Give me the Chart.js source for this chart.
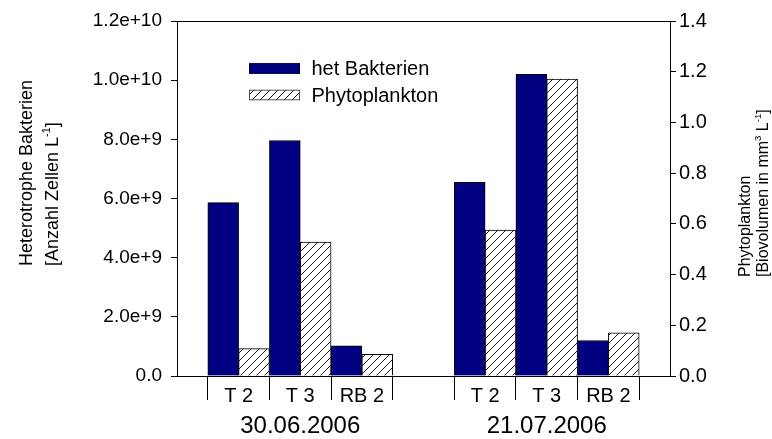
<!DOCTYPE html>
<html><head><meta charset="utf-8">
<script src="https://cdn.jsdelivr.net/npm/chart.js@4"></script>
<style>html,body{margin:0;padding:0;background:#fff}</style>
</head><body>
<canvas id="c" width="772" height="439" style="display:block;width:772px;height:439px"></canvas>
<script>
// ---- data ----
const categories = ['', 'T 2', 'T 3', 'RB 2', '', 'T 2', 'T 3', 'RB 2', ''];
const dateLabels = ['', '', '30.06.2006', '', '', '', '21.07.2006', '', ''];
const bakterien = [null, 5.86e9, 7.96e9, 1.02e9, null, 6.55e9, 1.02e10, 1.20e9, null];
const phytoplankton = [null, 0.108, 0.528, 0.085, null, 0.575, 1.171, 0.170, null];
const seriesNames = ['het Bakterien', 'Phytoplankton'];
const leftTitle = [[{t: 'Heterotrophe Bakterien'}], [{t: '[Anzahl Zellen L'}, {t: '-1', sup: true}, {t: ']'}]];
const rightTitle = [[{t: 'Phytoplankton'}], [{t: '[Biovolumen in mm'}, {t: '3', sup: true}, {t: ' L'}, {t: '-1', sup: true}, {t: ']'}]];

const FONT = "'Liberation Sans', Arial, Helvetica, sans-serif";
Chart.defaults.font.family = FONT;
Chart.defaults.color = '#000';

const canvas = document.getElementById('c');
const ctx = canvas.getContext('2d');

function makeHatch() {
  const s = 8;
  const c = document.createElement('canvas');
  c.width = s; c.height = s;
  const g = c.getContext('2d');
  g.fillStyle = '#fff'; g.fillRect(0, 0, s, s);
  g.strokeStyle = '#000'; g.lineWidth = 0.9;
  g.beginPath();
  g.moveTo(0, s); g.lineTo(s, 0);
  g.moveTo(-s / 2, s / 2); g.lineTo(s / 2, -s / 2);
  g.moveTo(s / 2, s * 1.5); g.lineTo(s * 1.5, s / 2);
  g.stroke();
  return ctx.createPattern(c, 'repeat');
}
const hatch = makeHatch();

function drawRich(c, segs, size) {
  let x = 0;
  for (const s of segs) {
    const fs = s.sup ? size * 0.6 : size;
    c.font = fs + 'px ' + FONT;
    c.fillText(s.t, x, s.sup ? -size * 0.4 : 0);
    x += c.measureText(s.t).width;
  }
}

const decorPlugin = {
  id: 'decor',
  afterDraw(chart) {
    const c = chart.ctx;
    const a = chart.chartArea;
    c.save();
    c.fillStyle = '#000';
    c.textAlign = 'left';
    c.textBaseline = 'alphabetic';
    // axis titles (rotated, reading bottom to top)
    const lt = [{x: 32, y: 266}, {x: 57.5, y: 266}];
    leftTitle.forEach((segs, i) => {
      c.save(); c.translate(lt[i].x, lt[i].y); c.rotate(-Math.PI / 2);
      drawRich(c, segs, 18); c.restore();
    });
    const rt = [{x: 749.5, y: 277}, {x: 767.5, y: 277}];
    rightTitle.forEach((segs, i) => {
      c.save(); c.translate(rt[i].x, rt[i].y); c.rotate(-Math.PI / 2);
      drawRich(c, segs, 16); c.restore();
    });
    // legend
    const lx = a.left + 72, bw = 51, bh = 10.5;
    const rows = [{y: a.top + 47.5, fill: '#000080'}, {y: a.top + 74, fill: hatch}];
    c.font = '20px ' + FONT;
    c.textBaseline = 'middle';
    rows.forEach((r, i) => {
      c.fillStyle = r.fill;
      c.fillRect(lx, r.y - bh / 2, bw, bh);
      c.strokeStyle = i === 0 ? '#000040' : '#555';
      c.lineWidth = 1;
      c.strokeRect(lx + 0.5, r.y - bh / 2 + 0.5, bw - 1, bh - 1);
      c.fillStyle = '#000';
      c.fillText(seriesNames[i], lx + 62.5, r.y + 1);
    });
    c.restore();
  }
};

new Chart(ctx, {
  type: 'bar',
  data: {
    labels: categories,
    datasets: [
      {label: seriesNames[0], data: bakterien, backgroundColor: '#000080', borderColor: '#000', borderWidth: 1, yAxisID: 'y', xAxisID: 'x'},
      {label: seriesNames[1], data: phytoplankton, backgroundColor: hatch, borderColor: '#000', borderWidth: 1, yAxisID: 'y2', xAxisID: 'x'}
    ]
  },
  options: {
    responsive: false,
    animation: false,
    devicePixelRatio: 1,
    layout: {padding: {top: 21, left: 0, right: 0, bottom: 0}},
    plugins: {legend: {display: false}, tooltip: {enabled: false}},
    datasets: {bar: {categoryPercentage: 1, barPercentage: 1}},
    scales: {
      x: {
        type: 'category', position: 'bottom', offset: false, weight: 0,
        grid: {offset: true, drawOnChartArea: false, drawTicks: true, tickLength: 24, tickColor: '#000', color: '#000', lineWidth: 1},
        border: {display: true, color: '#000', width: 1},
        ticks: {autoSkip: false, maxRotation: 0, minRotation: 0, padding: -16, font: {size: 20}, color: '#000'},
        afterFit: s => { s.height = 30; }
      },
      x2: {
        type: 'category', position: 'bottom', labels: dateLabels, offset: false, weight: 1,
        grid: {display: false, drawTicks: false},
        border: {display: false},
        ticks: {autoSkip: false, maxRotation: 0, minRotation: 0, padding: 6, font: {size: 24}, color: '#000'},
        afterFit: s => { s.height = 33; }
      },
      y: {
        position: 'left', min: 0, max: 1.2e10,
        ticks: {stepSize: 2e9, padding: 9, font: {size: 19}, color: '#000',
          callback: v => (v === 0 ? '0.0' : Number(v).toExponential(1))},
        grid: {tickLength: 6, tickColor: '#000', drawOnChartArea: true,
          color: c => (c.tick && Math.abs(c.tick.value - 1.2e10) < 1 ? '#000' : 'rgba(0,0,0,0)')},
        border: {display: true, color: '#000', width: 1},
        afterFit: s => { s.width = 177; }
      },
      y2: {
        position: 'right', min: 0, max: 1.4,
        ticks: {stepSize: 0.2, padding: 3, font: {size: 20}, color: '#000',
          callback: v => Number(v).toFixed(1)},
        grid: {drawOnChartArea: false, tickLength: 6, tickColor: '#000', color: '#000'},
        border: {display: true, color: '#000', width: 1},
        afterFit: s => { s.width = 102; }
      }
    }
  },
  plugins: [decorPlugin]
});
</script>
</body></html>
